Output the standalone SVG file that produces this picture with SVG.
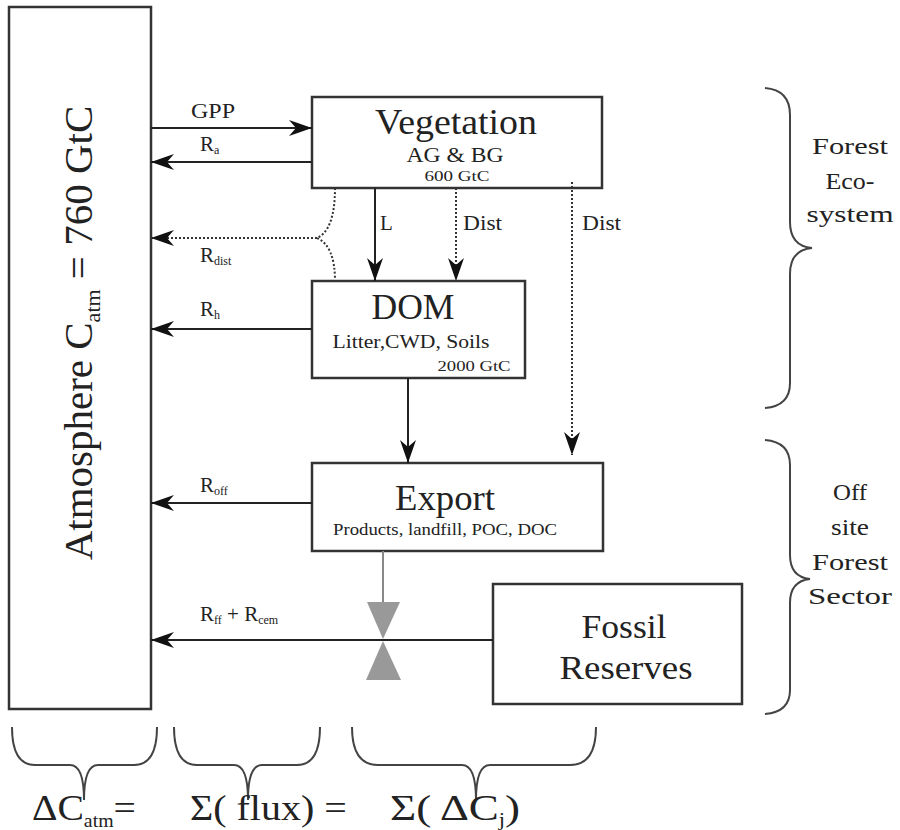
<svg xmlns="http://www.w3.org/2000/svg" width="900" height="830" viewBox="0 0 900 830">
<defs>
<marker id="ah" markerWidth="24" markerHeight="18" refX="23" refY="8" orient="auto" markerUnits="userSpaceOnUse">
<path d="M0,0 L23,8 L0,16 L7,8 Z" fill="#111"/>
</marker>
</defs>
<style>
.box{fill:#fff;stroke:#333;stroke-width:2.5}
.t{fill:#222}
.ln{stroke:#222;stroke-width:2;fill:none}
.dot{stroke:#333;stroke-width:2;stroke-dasharray:2,2;fill:none}
.br{stroke:#444;stroke-width:2;fill:none}
</style>
<rect width="900" height="830" fill="#fff"/>
<g font-family="'Liberation Serif', 'DejaVu Serif', serif">

<g id="atmosphere">
<rect class="box" x="9" y="7" width="142" height="702"/>
<text class="t" transform="translate(92,333) rotate(-90)" text-anchor="middle" font-size="41">Atmosphere C<tspan font-size="22" dy="8">atm</tspan><tspan dy="-8"> = 760 GtC</tspan></text>
</g>

<g id="vegetation">
<rect class="box" x="312" y="97" width="290" height="91"/>
<text class="t" x="456" y="134" text-anchor="middle" font-size="36" textLength="162" lengthAdjust="spacingAndGlyphs">Vegetation</text>
<text class="t" x="455" y="162" text-anchor="middle" font-size="20" textLength="97" lengthAdjust="spacingAndGlyphs">AG &amp; BG</text>
<text class="t" x="457" y="181" text-anchor="middle" font-size="14" textLength="65" lengthAdjust="spacingAndGlyphs">600 GtC</text>
</g>

<g id="dom">
<rect class="box" x="312" y="281" width="213" height="97"/>
<text class="t" x="413" y="319" text-anchor="middle" font-size="36" textLength="83" lengthAdjust="spacingAndGlyphs">DOM</text>
<text class="t" x="411" y="348" text-anchor="middle" font-size="19" textLength="157" lengthAdjust="spacingAndGlyphs">Litter,CWD, Soils</text>
<text class="t" x="474" y="371" text-anchor="middle" font-size="15" textLength="73" lengthAdjust="spacingAndGlyphs">2000 GtC</text>
</g>

<g id="export">
<rect class="box" x="312" y="463" width="291" height="88"/>
<text class="t" x="445" y="510" text-anchor="middle" font-size="36" textLength="100" lengthAdjust="spacingAndGlyphs">Export</text>
<text class="t" x="445" y="535" text-anchor="middle" font-size="16" textLength="224" lengthAdjust="spacingAndGlyphs">Products, landfill, POC, DOC</text>
</g>

<g id="fossil">
<rect class="box" x="493" y="584" width="249" height="120"/>
<text class="t" x="624" y="638" text-anchor="middle" font-size="34" textLength="85" lengthAdjust="spacingAndGlyphs">Fossil</text>
<text class="t" x="626" y="679" text-anchor="middle" font-size="34" textLength="133" lengthAdjust="spacingAndGlyphs">Reserves</text>
</g>

<g id="connectors">
<line class="ln" x1="151" y1="128" x2="312" y2="128" marker-end="url(#ah)"/>
<text class="t" x="213" y="118" text-anchor="middle" font-size="20" textLength="44" lengthAdjust="spacingAndGlyphs">GPP</text>
<line class="ln" x1="312" y1="162" x2="151" y2="162" marker-end="url(#ah)"/>
<text class="t" x="200" y="151" font-size="21">R<tspan font-size="12" dy="3">a</tspan></text>

<path class="dot" d="M335,188 Q335,230 317,238 Q335,246 335,281"/>
<line class="dot" x1="317" y1="238" x2="151" y2="238" marker-end="url(#ah)"/>
<text class="t" x="200" y="262" font-size="21">R<tspan font-size="12" dy="3">dist</tspan></text>

<line class="ln" x1="375" y1="188" x2="375" y2="281" marker-end="url(#ah)"/>
<text class="t" x="380" y="230" font-size="21">L</text>
<line class="dot" x1="456" y1="188" x2="456" y2="281" marker-end="url(#ah)"/>
<text class="t" x="463" y="230" font-size="20" textLength="39" lengthAdjust="spacingAndGlyphs">Dist</text>
<line class="dot" x1="572" y1="182" x2="572" y2="455" marker-end="url(#ah)"/>
<text class="t" x="582" y="230" font-size="20" textLength="39" lengthAdjust="spacingAndGlyphs">Dist</text>

<line class="ln" x1="312" y1="329" x2="151" y2="329" marker-end="url(#ah)"/>
<text class="t" x="200" y="316" font-size="21">R<tspan font-size="12" dy="3">h</tspan></text>

<line class="ln" x1="408" y1="378" x2="408" y2="463" marker-end="url(#ah)"/>

<line class="ln" x1="312" y1="503" x2="151" y2="503" marker-end="url(#ah)"/>
<text class="t" x="200" y="492" font-size="21">R<tspan font-size="12" dy="3">off</tspan></text>

<line x1="383" y1="551" x2="383" y2="604" stroke="#888" stroke-width="2"/>
<polygon points="367,602 400,602 383,639" fill="#999"/>
<polygon points="383,641 366,680 401,680" fill="#999"/>

<line class="ln" x1="493" y1="640" x2="151" y2="640" marker-end="url(#ah)"/>
<text class="t" x="200" y="621" font-size="21">R<tspan font-size="12" dy="3">ff</tspan><tspan dy="-3"> + R</tspan><tspan font-size="12" dy="3">cem</tspan></text>
</g>

<g id="brace-forest-ecosystem">
<path class="br" d="M765,88 Q790,90 790,115 L790,222 Q790,246 812,248 Q790,250 790,274 L790,383 Q790,406 765,408"/>
<text class="t" x="850" y="154" text-anchor="middle" font-size="24" textLength="76" lengthAdjust="spacingAndGlyphs">Forest</text>
<text class="t" x="850" y="189" text-anchor="middle" font-size="24" textLength="49" lengthAdjust="spacingAndGlyphs">Eco-</text>
<text class="t" x="850" y="222" text-anchor="middle" font-size="24" textLength="87" lengthAdjust="spacingAndGlyphs">system</text>
</g>

<g id="brace-offsite">
<path class="br" d="M765,440 Q790,442 790,465 L790,555 Q790,577 810,579 Q790,581 790,603 L790,690 Q790,712 765,714"/>
<text class="t" x="850" y="500" text-anchor="middle" font-size="24" textLength="34" lengthAdjust="spacingAndGlyphs">Off</text>
<text class="t" x="850" y="535" text-anchor="middle" font-size="24" textLength="38" lengthAdjust="spacingAndGlyphs">site</text>
<text class="t" x="850" y="570" text-anchor="middle" font-size="24" textLength="76" lengthAdjust="spacingAndGlyphs">Forest</text>
<text class="t" x="850" y="604" text-anchor="middle" font-size="24" textLength="84" lengthAdjust="spacingAndGlyphs">Sector</text>
</g>

<g id="bottom-braces">
<path class="br" d="M12,727 Q12,765 35,765 L70,765 Q84,765 84,800 Q84,765 98,765 L134,765 Q157,765 157,727"/>
<path class="br" d="M174,727 Q174,765 197,765 L234,765 Q248,765 248,800 Q248,765 262,765 L297,765 Q320,765 320,727"/>
<path class="br" d="M352,727 Q352,765 378,765 L462,765 Q476,765 476,800 Q476,765 490,765 L570,765 Q596,765 596,727"/>
<text class="t" transform="translate(32,820) scale(1.1,1)" font-size="36">ΔC<tspan font-size="18" dy="7">atm</tspan><tspan dy="-7">=</tspan></text>
<text class="t" transform="translate(190,820) scale(1.11,1)" font-size="36">Σ( flux)  =</text>
<text class="t" transform="translate(390,820) scale(1.25,1)" font-size="36">Σ( ΔC<tspan font-size="18" dy="6">j</tspan><tspan dy="-6">)</tspan></text>
</g>
</g>
</svg>
